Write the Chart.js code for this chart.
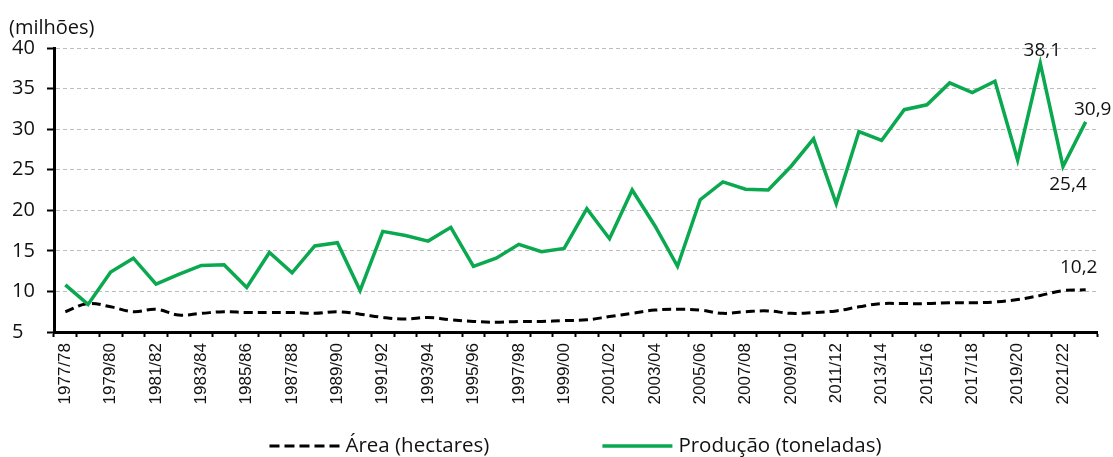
<!DOCTYPE html>
<html>
<head>
<meta charset="utf-8">
<script src="https://cdn.jsdelivr.net/npm/chart.js@4/dist/chart.umd.min.js"></script>
<style>
html,body{margin:0;padding:0;background:#fff;}
#wrap{width:1113px;height:457px;position:relative;}
</style>
</head>
<body>
<div id="wrap"><canvas id="c" width="1113" height="457"></canvas></div>
<script>
const seasons = ['1977/78','1978/79','1979/80','1980/81','1981/82','1982/83','1983/84','1984/85','1985/86','1986/87',
  '1987/88','1988/89','1989/90','1990/91','1991/92','1992/93','1993/94','1994/95','1995/96','1996/97',
  '1997/98','1998/99','1999/00','2000/01','2001/02','2002/03','2003/04','2004/05','2005/06','2006/07',
  '2007/08','2008/09','2009/10','2010/11','2011/12','2012/13','2013/14','2014/15','2015/16','2016/17',
  '2017/18','2018/19','2019/20','2020/21','2021/22','2022/23'];
const producao = [10.8,8.4,12.4,14.1,10.9,12.1,13.2,13.3,10.5,14.8,
  12.3,15.6,16.0,10.1,17.4,16.9,16.2,17.9,13.1,14.1,
  15.8,14.9,15.3,20.2,16.5,22.5,18.1,13.1,21.3,23.5,
  22.6,22.5,25.4,28.8,20.8,29.7,28.6,32.4,33.0,35.7,
  34.5,35.9,26.2,38.1,25.4,30.9];
const area = [7.5,8.5,8.1,7.5,7.8,7.1,7.3,7.5,7.4,7.4,
  7.4,7.3,7.5,7.2,6.8,6.6,6.8,6.5,6.3,6.2,
  6.3,6.3,6.4,6.5,6.9,7.3,7.7,7.8,7.7,7.3,
  7.5,7.6,7.3,7.4,7.6,8.1,8.5,8.5,8.5,8.6,
  8.6,8.7,9.0,9.5,10.1,10.2];
const yTicks = [5,10,15,20,25,30,35,40];
const seriesNames = ['Área (hectares)','Produção (toneladas)'];
const unitLabel = '(milhões)';
const highlighted = [
  {series:1, index:43, text:'38,1'},
  {series:1, index:44, text:'25,4'},
  {series:1, index:45, text:'30,9'},
  {series:0, index:45, text:'10,2'}
];

const GREEN = '#0aa84f';
const FONT = '"Open Sans", "Noto Sans", sans-serif';

const labelPlugin = {
  id: 'labels',
  afterDatasetsDraw(chart) {
    const ctx = chart.ctx;
    ctx.save();
    ctx.font = '19px ' + FONT;
    ctx.fillStyle = '#111';
    ctx.textAlign = 'center';
    ctx.textBaseline = 'middle';
    const offs = {'38,1':[2,-13], '25,4':[5,18], '30,9':[7,-12], '10,2':[-7,-22]};
    highlighted.forEach(h => {
      const meta = chart.getDatasetMeta(h.series);
      const pt = meta.data[h.index];
      const o = offs[h.text] || [0,-15];
      ctx.fillText(h.text, pt.x + o[0], pt.y + o[1]);
    });
    ctx.font = '20px ' + FONT;
    ctx.textAlign = 'left';
    ctx.fillText(unitLabel, 9, 28);
    ctx.restore();
  },
  afterDraw(chart) {
    const ctx = chart.ctx;
    ctx.save();
    ctx.font = '20.5px ' + FONT;
    ctx.textBaseline = 'middle';
    ctx.textAlign = 'left';
    const y = 446;
    const sampleW = 70, gapText = 6, gapItems = 113;
    const ds = chart.data.datasets;
    const items = [0,1].map(i => ({ds: ds[i], w: ctx.measureText(ds[i].label).width}));
    const total = items.reduce((s,it)=>s+sampleW+gapText+it.w,0) + gapItems;
    let x = (chart.chartArea.left + chart.chartArea.right)/2 - total/2;
    items.forEach(it => {
      ctx.beginPath();
      ctx.strokeStyle = it.ds.borderColor;
      ctx.lineWidth = it.ds.borderWidth;
      ctx.setLineDash(it.ds.borderDash ? [10,5] : []);
      ctx.moveTo(x, y); ctx.lineTo(x + sampleW, y);
      ctx.stroke();
      ctx.setLineDash([]);
      ctx.fillStyle = '#111';
      ctx.fillText(it.ds.label, x + sampleW + gapText, y);
      x += sampleW + gapText + it.w + gapItems;
    });
    ctx.restore();
  }
};

new Chart(document.getElementById('c'), {
  type: 'line',
  data: {
    labels: seasons,
    datasets: [
      {label: seriesNames[0], data: area, borderColor: '#000', borderWidth: 3, borderDash: [9,5],
       tension: 0.4, pointRadius: 0, fill: false, order: 1},
      {label: seriesNames[1], data: producao, borderColor: GREEN, borderWidth: 3.5,
       tension: 0, pointRadius: 0, fill: false, order: 0, borderJoinStyle: 'miter'}
    ]
  },
  options: {
    responsive: false,
    animation: false,
    layout: {padding: {left: 12, right: 16, top: 48, bottom: 0}},
    plugins: {legend: {display: false}, tooltip: {enabled: false}},
    scales: {
      x: {
        offset: true,
        afterFit(s) { s.height = 125; },
        grid: {display: true, drawOnChartArea: false, offset: true, tickLength: 5, tickColor: '#000', tickWidth: 2, color: '#000'},
        border: {color: '#000', width: 3},
        ticks: {
          autoSkip: false, maxRotation: 90, minRotation: 90, padding: 6,
          color: '#111', font: {family: '"Liberation Sans", Arial, sans-serif', size: 17},
          callback: (v, i) => (i % 2 === 0 ? seasons[i] : '')
        }
      },
      y: {
        min: yTicks[0], max: yTicks[yTicks.length-1],
        afterFit(s) { s.width = 42; },
        afterBuildTicks(s) { s.ticks = yTicks.map(v => ({value: v})); },
        grid: {color: '#bdbdbd', lineWidth: 1, tickLength: 7, tickColor: '#000', tickWidth: 2, tickBorderDash: []},
        border: {color: '#000', width: 3, dash: [4,3]},
        ticks: {crossAlign: 'far', color: '#111', font: {family: FONT, size: 20}, padding: 4,
          callback: v => v}
      }
    }
  },
  plugins: [labelPlugin]
});
</script>
</body>
</html>
